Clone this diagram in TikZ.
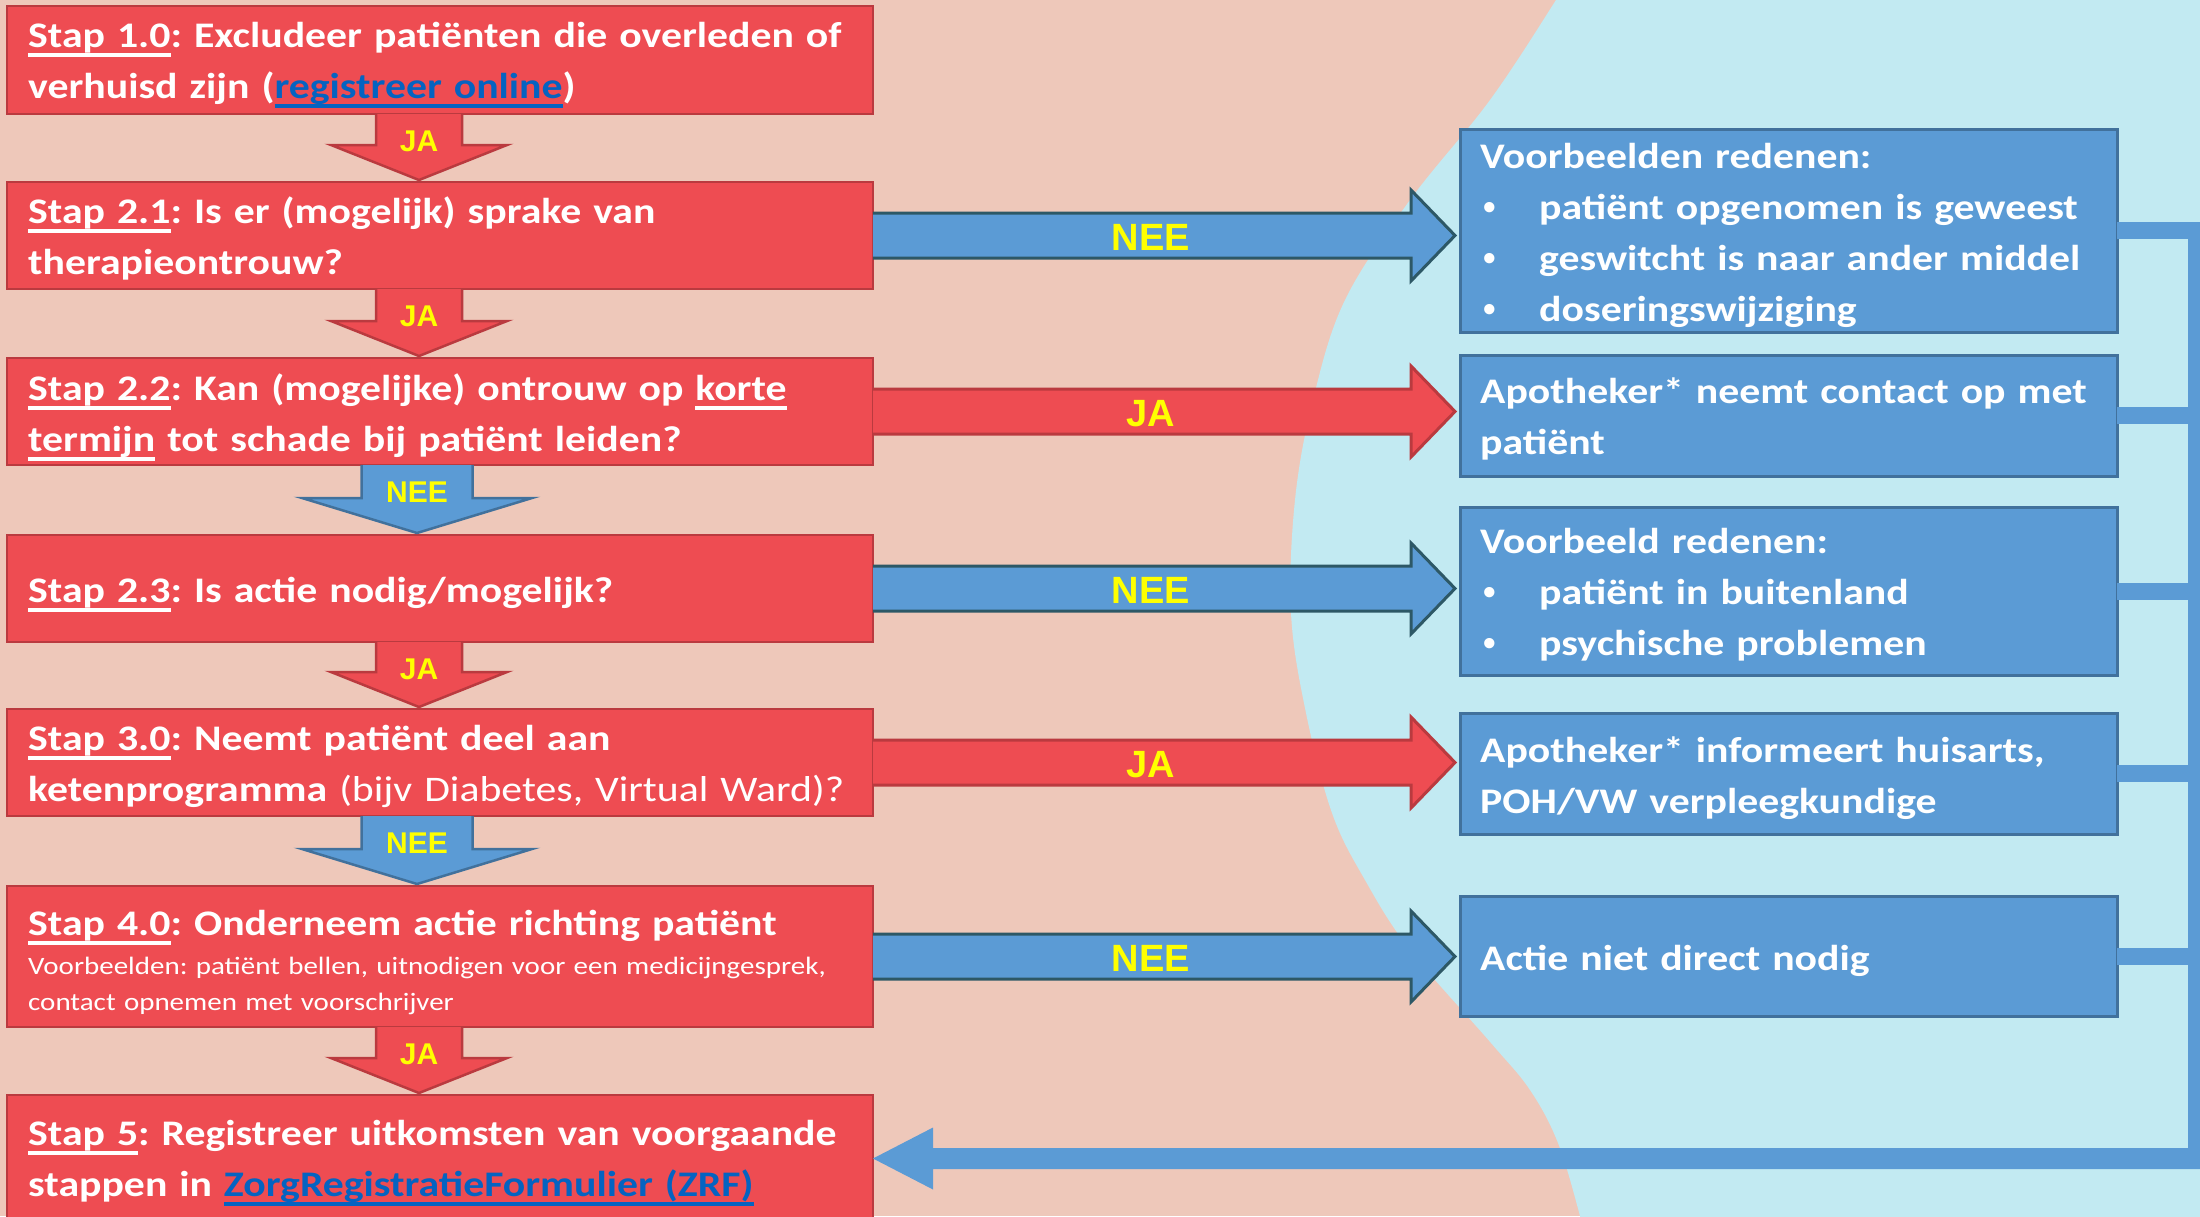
\documentclass[tikz,border=0pt]{standalone}
\usepackage{fontspec}
\setmainfont{Carlito}[FakeStretch=1.16]
\newfontfamily\lblfont{Liberation Sans}
\usetikzlibrary{calc}
\frenchspacing
\definecolor{bgsalmon}{HTML}{EEC8BA}
\definecolor{bgcyan}{HTML}{C2EAF2}
\definecolor{boxred}{HTML}{EE4C52}
\definecolor{boxredline}{HTML}{BA3A3F}
\definecolor{boxblue}{HTML}{5B9BD5}
\definecolor{boxblueline}{HTML}{41719C}
\definecolor{arrowdark}{HTML}{2D5866}
\definecolor{linkblue}{HTML}{0563C1}
\definecolor{lblyellow}{HTML}{FFFF00}
\newsavebox\ulbox
\newcommand\ulx[1]{\leavevmode\sbox\ulbox{#1}\rlap{\rule[-0.27em]{\wd\ulbox}{0.1em}}\usebox\ulbox}
\newcommand\bul{\leavevmode\hspace*{3pt}\makebox[56pt][l]{\lblfont •}}
% vertical block arrow: style, from, to, centre offset, half shaft, half head, label style, label name, label
\newcommand\vblock[9]{%
  \filldraw[#1] ([xshift=#4-#5]#2.south west) -- ([xshift=#4-#5,yshift=37pt]#3.north west)
    -- ([xshift=#4-#6,yshift=37pt]#3.north west) -- ([xshift=#4,yshift=2pt]#3.north west)
    -- ([xshift=#4+#6,yshift=37pt]#3.north west) -- ([xshift=#4+#5,yshift=37pt]#3.north west)
    -- ([xshift=#4+#5]#2.south west);
  \node[#7] (#8) at ([xshift=#4,yshift=-27pt]#2.south west) {#9};}
% horizontal block arrow: style, from, to, label name, label
\newcommand\hblock[5]{%
  \coordinate (#2-#3) at (#2.east -| #3.west);
  \filldraw[#1] ([yshift=22.5pt]#2.east) -- ([xshift=-49pt,yshift=22.5pt]#2-#3)
    -- ([xshift=-49pt,yshift=45.5pt]#2-#3) -- ([xshift=-5pt]#2-#3)
    -- ([xshift=-49pt,yshift=-45.5pt]#2-#3) -- ([xshift=-49pt,yshift=-22.5pt]#2-#3)
    -- ([yshift=-22.5pt]#2.east);
  \node[hlabel] (#4) at ([xshift=278pt,yshift=-2pt]#2.east) {#5};}
\tikzset{
  redbox/.style={draw=boxredline, line width=2.5pt, fill=boxred, inner sep=0pt, outer sep=0pt, anchor=north west, minimum width=866pt},
  bluebox/.style={draw=boxblueline, line width=3pt, fill=boxblue, inner sep=0pt, outer sep=0pt, anchor=north west, minimum width=657pt},
  maintext/.style={anchor=base west, inner sep=0pt, text=white, text width=1000pt, align=left, font=\bfseries\fontsize{36}{51}\selectfont},
  smalltext/.style={maintext, font=\mdseries\fontsize{25}{36}\selectfont},
  redarrow/.style={fill=boxred, draw=boxredline, line width=2.5pt, line join=miter},
  bluevarrow/.style={fill=boxblue, draw=boxblueline, line width=2.5pt, line join=miter},
  bluearrow/.style={fill=boxblue, draw=arrowdark, line width=3pt, line join=miter},
  redharrow/.style={fill=boxred, draw=boxredline, line width=3pt, line join=miter},
  vlabel/.style={inner sep=0pt, text=lblyellow, font=\lblfont\bfseries\fontsize{30}{30}\selectfont},
  hlabel/.style={inner sep=0pt, text=lblyellow, font=\lblfont\bfseries\fontsize{38}{38}\selectfont},
  conn/.style={draw=boxblue},
}
\begin{document}
\begin{tikzpicture}[x=1pt,y=-1pt]
\useasboundingbox (0,0) rectangle (2200,1216);
% background
\fill[bgsalmon] (0,0) rectangle (2200,1216);
\fill[bgcyan] plot[smooth, tension=0.6] coordinates {(1580,-40) (1556,0) (1490,100) (1410,200) (1345,300) (1313,400) (1295,500) (1291,613) (1306,713) (1332,813) (1365,880) (1410,950) (1491,1043) (1530,1090) (1558,1143) (1580,1216) (1590,1260)} -- (2240,1260) -- (2240,-40) -- cycle;
% red step boxes
\node[redbox, minimum height=108pt] (b1)  at (7,6) {};
\node[redbox, minimum height=107pt] (b21) at (7,182) {};
\node[redbox, minimum height=107pt] (b22) at (7,358) {};
\node[redbox, minimum height=107pt] (b23) at (7,535) {};
\node[redbox, minimum height=107pt] (b30) at (7,709) {};
\node[redbox, minimum height=141pt] (b40) at (7,886) {};
\node[redbox, minimum height=127pt] (b5)  at (7,1095) {};
% blue outcome boxes
\node[bluebox, minimum height=203pt] (bA) at (1460,129) {};
\node[bluebox, minimum height=121pt] (bB) at (1460,355) {};
\node[bluebox, minimum height=168pt] (bC) at (1460,507) {};
\node[bluebox, minimum height=121pt] (bD) at (1460,713) {};
\node[bluebox, minimum height=120pt] (bE) at (1460,896) {};
% vertical arrows
\vblock{redarrow}{b1}{b21}{412pt}{43pt}{88pt}{vlabel}{l1}{JA}
\vblock{redarrow}{b21}{b22}{412pt}{43pt}{88pt}{vlabel}{l2}{JA}
\vblock{bluevarrow}{b22}{b23}{410pt}{55.5pt}{115pt}{vlabel}{l3}{NEE}
\vblock{redarrow}{b23}{b30}{412pt}{43pt}{88pt}{vlabel}{l4}{JA}
\vblock{bluevarrow}{b30}{b40}{410pt}{55.5pt}{115pt}{vlabel}{l5}{NEE}
\vblock{redarrow}{b40}{b5}{412pt}{43pt}{88pt}{vlabel}{l6}{JA}
% horizontal arrows
\hblock{bluearrow}{b21}{bA}{h1}{NEE}
\hblock{redharrow}{b22}{bB}{h2}{JA}
\hblock{bluearrow}{b23}{bC}{h3}{NEE}
\hblock{redharrow}{b30}{bD}{h4}{JA}
\hblock{bluearrow}{b40}{bE}{h5}{NEE}
% return connector
\coordinate (rail) at (2196,0);
\coordinate (rA) at (bA.east -| rail);
\coordinate (r5) at (b5.east -| rail);
\draw[conn, line width=17pt] (bA.east) -- (rA);
\draw[conn, line width=17pt] (bB.east) -- (bB.east -| rail);
\draw[conn, line width=17pt] (bC.east) -- (bC.east -| rail);
\draw[conn, line width=17pt] (bD.east) -- (bD.east -| rail);
\draw[conn, line width=17pt] (bE.east) -- (bE.east -| rail);
\draw[conn, line width=17pt] ([yshift=8.5pt]rA) -- ([yshift=-10.5pt]r5);
\fill[boxblue] ([xshift=8.5pt,yshift=10.5pt]r5) -- ([xshift=60pt,yshift=10.5pt]b5.east)
  -- ([xshift=60pt,yshift=31pt]b5.east) -- (b5.east) -- ([xshift=60pt,yshift=-31pt]b5.east)
  -- ([xshift=60pt,yshift=-10.5pt]b5.east) -- ([xshift=8.5pt,yshift=-10.5pt]r5) -- cycle;
% texts in red boxes
\node[maintext] (t1) at (28,47) {\ulx{Stap 1.0}: Excludeer patiënten die overleden of\\verhuisd zijn (\textcolor{linkblue}{\ulx{registreer online}})};
\node[maintext] (t21) at (28,223) {\ulx{Stap 2.1}: Is er (mogelijk) sprake van\\therapieontrouw?};
\node[maintext] (t22) at (28,400) {\ulx{Stap 2.2}: Kan (mogelijke) ontrouw op \ulx{korte}\\\ulx{termijn} tot schade bij patiënt leiden?};
\node[maintext] (t23) at (28,602) {\ulx{Stap 2.3}: Is actie nodig/mogelijk?};
\node[maintext] (t30) at (28,750) {\ulx{Stap 3.0}: Neemt patiënt deel aan\\ketenprogramma {\mdseries (bijv Diabetes, Virtual Ward)?}};
\node[maintext] (t40) at (28,935) {\ulx{Stap 4.0}: Onderneem actie richting patiënt};
\node[smalltext] (t40s) at (28,974) {Voorbeelden: patiënt bellen, uitnodigen voor een medicijngesprek,\\contact opnemen met voorschrijver};
\node[maintext] (t5) at (28,1145) {\ulx{Stap 5}: Registreer uitkomsten van voorgaande\\stappen in \textcolor{linkblue}{\ulx{ZorgRegistratieFormulier (ZRF)}}};
% texts in blue boxes
\node[maintext] (tA) at (1480,168) {Voorbeelden redenen:\\\bul patiënt opgenomen is geweest\\\bul geswitcht is naar ander middel\\\bul doseringswijziging};
\node[maintext] (tB) at (1480,403) {Apotheker* neemt contact op met\\patiënt};
\node[maintext] (tC) at (1480,553) {Voorbeeld redenen:\\\bul patiënt in buitenland\\\bul psychische problemen};
\node[maintext] (tD) at (1480,762) {Apotheker* informeert huisarts,\\POH/VW verpleegkundige};
\node[maintext] (tE) at (1480,970) {Actie niet direct nodig};
\end{tikzpicture}
\end{document}
